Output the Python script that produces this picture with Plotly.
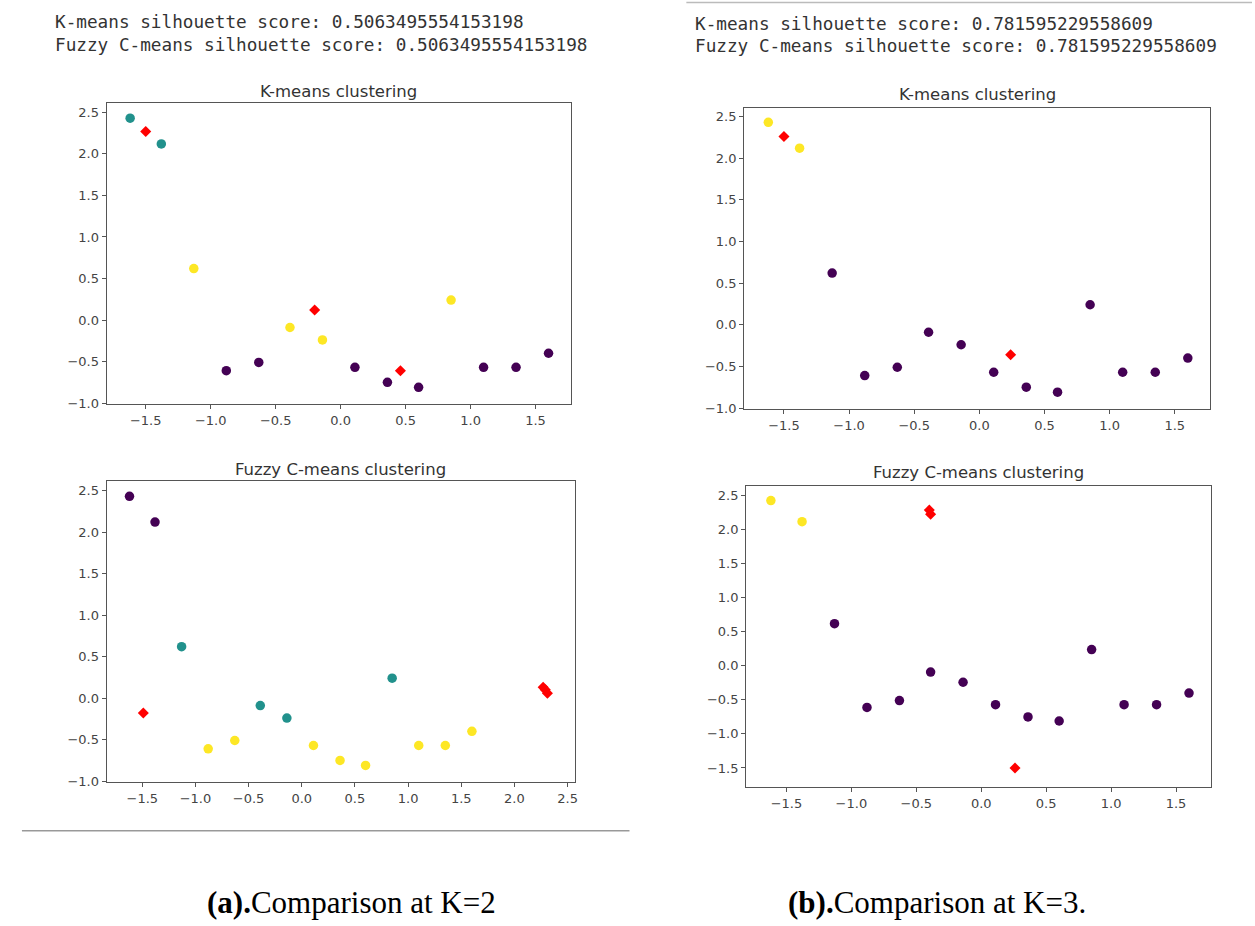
import plotly.graph_objects as go

# ---- data ----
x_pts = [-1.62, -1.38, -1.13, -0.88, -0.63, -0.39, -0.14, 0.11, 0.36, 0.60, 0.85, 1.10, 1.35, 1.60]
y_pts = [2.43, 2.12, 0.62, -0.61, -0.51, -0.09, -0.24, -0.57, -0.75, -0.81, 0.24, -0.57, -0.57, -0.40]

labels_km2 = [1, 1, 2, 0, 0, 2, 2, 0, 0, 0, 2, 0, 0, 0]
labels_fcm2 = [0, 0, 1, 2, 2, 1, 1, 2, 2, 2, 1, 2, 2, 2]
labels_km3 = [2, 2, 0, 0, 0, 0, 0, 0, 0, 0, 0, 0, 0, 0]
labels_fcm3 = [2, 2, 0, 0, 0, 0, 0, 0, 0, 0, 0, 0, 0, 0]

centers_km2_x = [-1.50, -0.20, 0.46]
centers_km2_y = [2.27, 0.12, -0.61]
centers_fcm2_x = [-1.49, 2.27, 2.29, 2.31]
centers_fcm2_y = [-0.18, 0.13, 0.10, 0.06]
centers_km3_x = [-1.50, 0.24]
centers_km3_y = [2.26, -0.36]
centers_fcm3_x = [-0.40, -0.39, 0.26]
centers_fcm3_y = [2.29, 2.23, -1.50]

score_k2 = "0.5063495554153198"
score_k3 = "0.781595229558609"

palette = ["#440154", "#21918c", "#fde725"]

W, H = 1255, 926

panels = [
    # (labels, cx, cy, title, xdomain px, ydomain px, xrange, yrange, title_y px)
    (labels_km2, centers_km2_x, centers_km2_y, "K-means clustering",
     (107, 572), (104, 407), [-1.80, 1.77], [-1.01, 2.61], 92),
    (labels_fcm2, centers_fcm2_x, centers_fcm2_y, "Fuzzy C-means clustering",
     (107, 576), (485, 788), [-1.834, 2.566], [-1.01, 2.61], 473),
    (labels_km3, centers_km3_x, centers_km3_y, "K-means clustering",
     (746, 1213), (109, 412), [-1.805, 1.771], [-1.01, 2.60], 95),
    (labels_fcm3, centers_fcm3_x, centers_fcm3_y, "Fuzzy C-means clustering",
     (748, 1214), (490, 793), [-1.81, 1.77], [-1.78, 2.64], 476),
]

fig = go.Figure()
layout_axes = {}
annotations = []
tickfont = dict(family="DejaVu Sans", size=13, color="#444")

for i, (labs, cx, cy, title, xd, yd, xr, yr, ty) in enumerate(panels, start=1):
    xa = "x" if i == 1 else f"x{i}"
    ya = "y" if i == 1 else f"y{i}"
    fig.add_trace(go.Scatter(
        x=x_pts, y=y_pts, mode="markers", xaxis=xa, yaxis=ya,
        marker=dict(size=9.5, color=[palette[l] for l in labs]),
        showlegend=False, hoverinfo="skip"))
    fig.add_trace(go.Scatter(
        x=cx, y=cy, mode="markers", xaxis=xa, yaxis=ya,
        marker=dict(size=8.5, symbol="diamond", color="#ff0000"),
        showlegend=False, hoverinfo="skip"))
    axkw = dict(showgrid=False, zeroline=False, showline=True, mirror=True,
                linecolor="#555", linewidth=1.3, ticks="outside", ticklen=4,
                tickcolor="#555", tickfont=tickfont, tickformat=".1f", dtick=0.5)
    xdom = [xd[0] / W, xd[1] / W]
    ydom = [1 - yd[1] / H, 1 - yd[0] / H]
    layout_axes["xaxis" if i == 1 else f"xaxis{i}"] = dict(
        domain=xdom, range=xr, anchor=ya, tick0=0, **axkw)
    layout_axes["yaxis" if i == 1 else f"yaxis{i}"] = dict(
        domain=ydom, range=yr, anchor=xa, tick0=0, **axkw)
    annotations.append(dict(
        text=title, x=(xdom[0] + xdom[1]) / 2, y=1 - ty / H, xref="paper", yref="paper",
        showarrow=False, xanchor="center", yanchor="middle",
        font=dict(family="DejaVu Sans", size=16.5, color="#333")))

mono = dict(family="DejaVu Sans Mono", size=17.7, color="#333")
for txt, x, y in [
    (f"K-means silhouette score: {score_k2}", 53, 22),
    (f"Fuzzy C-means silhouette score: {score_k2}", 53, 45),
    (f"K-means silhouette score: {score_k3}", 695, 24),
    (f"Fuzzy C-means silhouette score: {score_k3}", 695, 46),
]:
    annotations.append(dict(text=txt, x=x / W, y=1 - y / H, xref="paper", yref="paper",
                            showarrow=False, xanchor="left", yanchor="middle", font=mono))

serif = dict(family="Liberation Serif", size=31, color="#000")
annotations.append(dict(text="<b>(a).</b>Comparison at K=2", x=352 / W, y=1 - 909 / H,
                        xref="paper", yref="paper", showarrow=False,
                        xanchor="center", yanchor="middle", font=serif))
annotations.append(dict(text="<b>(b).</b>Comparison at K=3.", x=939 / W, y=1 - 909 / H,
                        xref="paper", yref="paper", showarrow=False,
                        xanchor="center", yanchor="middle", font=serif))

shapes = [
    dict(type="line", xref="paper", yref="paper", x0=22 / W, x1=631 / W,
         y0=1 - 837 / H, y1=1 - 837 / H, line=dict(color="#999", width=1.5)),
    dict(type="line", xref="paper", yref="paper", x0=688 / W, x1=1.0,
         y0=1 - 2.5 / H, y1=1 - 2.5 / H, line=dict(color="#bbb", width=1.5)),
]

fig.update_layout(
    width=W, height=H, margin=dict(l=0, r=0, t=0, b=0),
    paper_bgcolor="white", plot_bgcolor="white",
    annotations=annotations, shapes=shapes, **layout_axes)

fig.write_html("out.html", config={"displayModeBar": False},
               post_script="document.body.style.margin='0';document.body.style.overflow='hidden';")
